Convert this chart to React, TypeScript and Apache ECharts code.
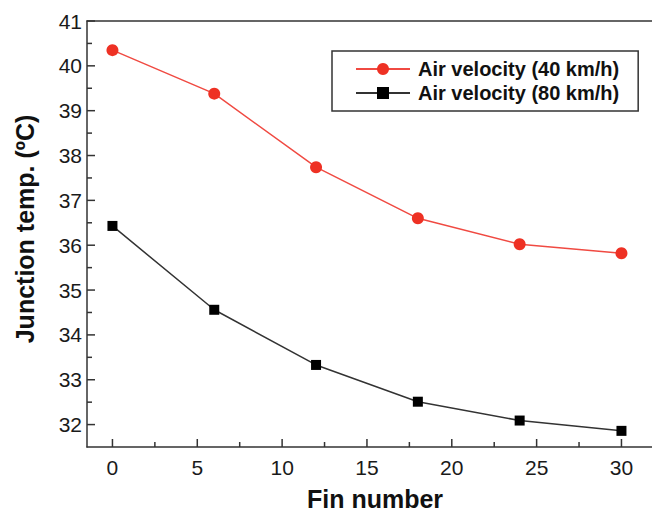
import React, { useEffect, useRef } from "react";
import * as echarts from "echarts";

const finNumbers = [0, 6, 12, 18, 24, 30];
const temp40 = [40.35, 39.38, 37.74, 36.6, 36.02, 35.82];
const temp80 = [36.43, 34.56, 33.33, 32.51, 32.09, 31.86];
const xMajorTicks = [0, 5, 10, 15, 20, 25, 30];
const xMinorTicks = [2.5, 7.5, 12.5, 17.5, 22.5, 27.5];
const yMajorTicks = [32, 33, 34, 35, 36, 37, 38, 39, 40, 41];
const yMinorTicks = [32.5, 33.5, 34.5, 35.5, 36.5, 37.5, 38.5, 39.5, 40.5];
const seriesNames = ["Air velocity (40 km/h)", "Air velocity (80 km/h)"];
const xTitle = "Fin number";
const yTitle = "Junction temp. (ºC)";

const FONT = "'Liberation Sans', Arial, sans-serif";

export default function App() {
  const ref = useRef<HTMLDivElement>(null);
  useEffect(() => {
    if (!ref.current) return;
    const chart = echarts.init(ref.current, null, { renderer: "svg" });
    const axisColor = "#333333";
    const xMin = -1.5;
    const xMax = 31.8;
    const yMin = 31.5;
    const yMax = 41;
    const lineStyle = { color: axisColor, width: 1.5 };
    const MAJOR = 8;
    const MINOR = 5;
    chart.setOption({
      animation: false,
      backgroundColor: "#ffffff",
      grid: { left: 87, top: 21, right: 0, bottom: 68, show: false },
      xAxis: [
        {
          type: "value",
          min: xMin,
          max: xMax,
          position: "bottom",
          splitLine: { show: false },
          axisLine: { show: true, onZero: false, lineStyle },
          axisTick: { show: false },
          axisLabel: { show: true, customValues: xMajorTicks, margin: 10, fontSize: 21, fontFamily: FONT, color: "#1a1a1a" },
        },
        {
          type: "value",
          min: xMin,
          max: xMax,
          position: "top",
          splitLine: { show: false },
          axisLine: { show: true, onZero: false, lineStyle },
          axisTick: { show: false },
          axisLabel: { show: false },
        },
      ],
      yAxis: [
        {
          type: "value",
          min: yMin,
          max: yMax,
          position: "left",
          splitLine: { show: false },
          axisLine: { show: true, onZero: false, lineStyle },
          axisTick: { show: false },
          axisLabel: { show: true, customValues: yMajorTicks, margin: 5, fontSize: 21, fontFamily: FONT, color: "#1a1a1a" },
        },
      ],
      legend: {
        orient: "vertical",
        left: 332,
        top: 51,
        padding: [8, 19, 8, 23],
        borderColor: "#333333",
        borderWidth: 1.5,
        backgroundColor: "#ffffff",
        itemWidth: 54,
        itemHeight: 15,
        itemGap: 4,
        data: seriesNames,
        textStyle: { fontSize: 20, fontWeight: "bold", fontFamily: FONT, color: "#111111", padding: [0, 0, 0, 3] },
      },
      graphic: [
        { type: "text", x: 375, y: 499, style: { text: xTitle, font: `bold 25px ${FONT}`, fill: "#111111", align: "center", verticalAlign: "middle" } },
        { type: "text", x: 25, y: 229, rotation: Math.PI / 2, style: { text: yTitle, font: `bold 25px ${FONT}`, fill: "#111111", align: "center", verticalAlign: "middle" } },
      ],
      series: [
        {
          name: "xticks",
          type: "custom",
          silent: true,
          clip: false,
          data: [
            ...xMajorTicks.map((v) => [v, 36, MAJOR]),
            ...xMinorTicks.map((v) => [v, 36, MINOR]),
          ],
          renderItem: (params: any, api: any) => {
            const p = api.coord([api.value(0), yMin]);
            const len = api.value(2);
            return {
              type: "line",
              shape: { x1: p[0], y1: p[1], x2: p[0], y2: p[1] - len },
              style: { stroke: axisColor, lineWidth: 1.5 },
            };
          },
          z: 2,
        },
        {
          name: "yticks",
          type: "custom",
          silent: true,
          clip: false,
          data: [
            ...yMajorTicks.map((v) => [0, v, MAJOR]),
            ...yMinorTicks.map((v) => [0, v, MINOR]),
          ],
          renderItem: (params: any, api: any) => {
            const p = api.coord([xMin, api.value(1)]);
            const len = api.value(2);
            return {
              type: "line",
              shape: { x1: p[0], y1: p[1], x2: p[0] + len, y2: p[1] },
              style: { stroke: axisColor, lineWidth: 1.5 },
            };
          },
          z: 2,
        },
        {
          name: seriesNames[0],
          type: "line",
          data: finNumbers.map((x, i) => [x, temp40[i]]),
          symbol: "circle",
          symbolSize: 12,
          itemStyle: { color: "#ee3124" },
          lineStyle: { color: "#f04a42", width: 1.5 },
          z: 3,
        },
        {
          name: seriesNames[1],
          type: "line",
          data: finNumbers.map((x, i) => [x, temp80[i]]),
          symbol: "rect",
          symbolSize: 10,
          itemStyle: { color: "#000000" },
          lineStyle: { color: "#333333", width: 1.5 },
          z: 3,
        },
      ],
    });
    return () => chart.dispose();
  }, []);
  return <div ref={ref} style={{ position: "absolute", left: 0, top: 0, width: 652, height: 515, background: "#fff" }} />;
}
